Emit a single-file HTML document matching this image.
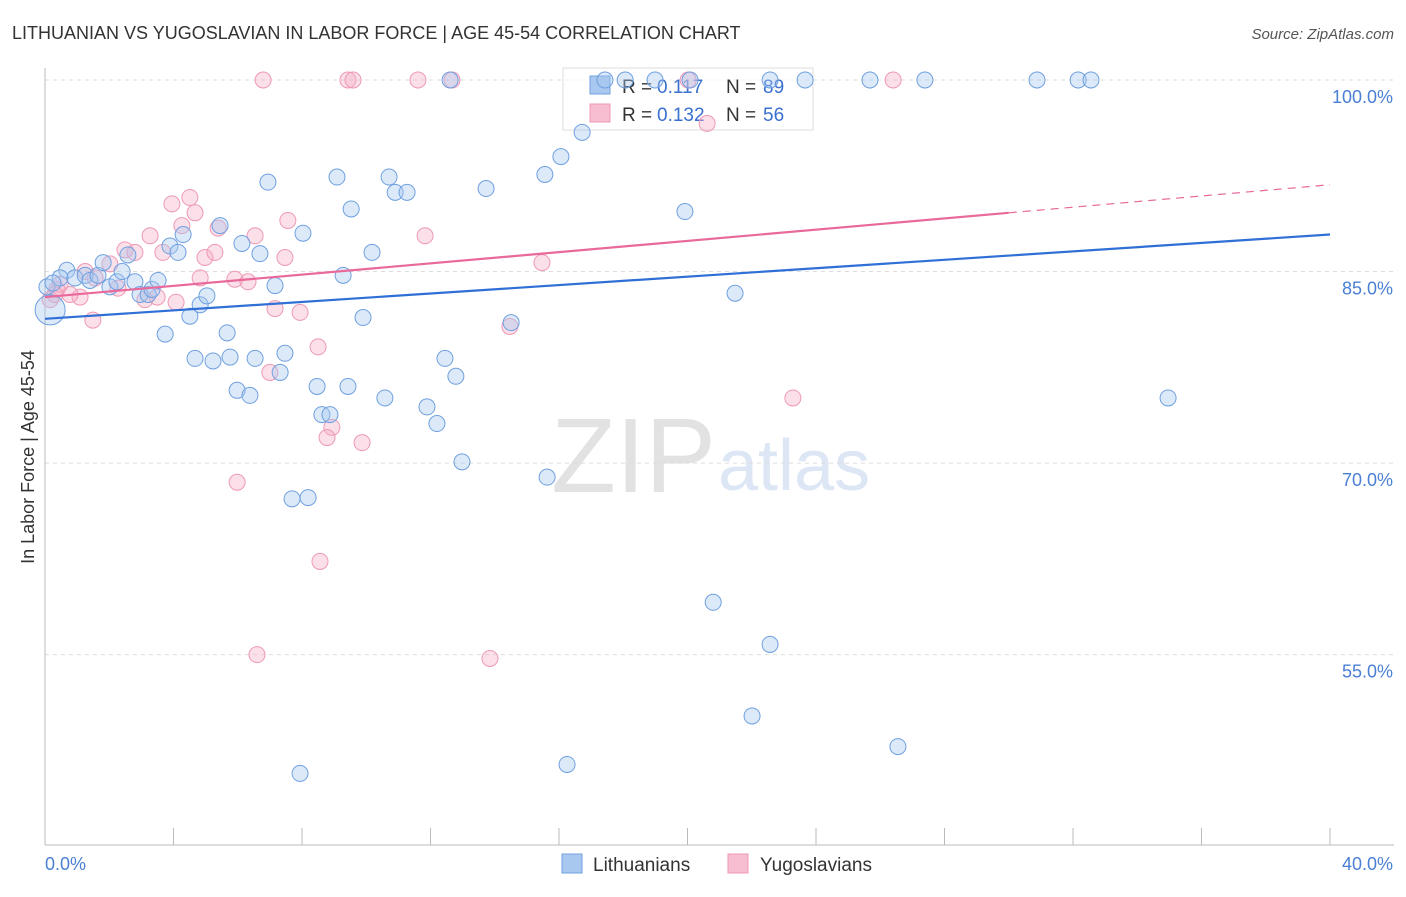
<!DOCTYPE html>
<html><head><meta charset="utf-8"><style>
body{margin:0;background:#fff;font-family:"Liberation Sans",sans-serif;}
svg text{font-family:"Liberation Sans",sans-serif;}
</style></head><body>
<svg id="chart" width="1406" height="892" viewBox="0 0 1406 892">
<text x="12" y="39" font-size="18" fill="#333">LITHUANIAN VS YUGOSLAVIAN IN LABOR FORCE | AGE 45-54 CORRELATION CHART</text>
<text x="1394" y="39" font-size="15" fill="#555" font-style="italic" text-anchor="end">Source: ZipAtlas.com</text>
<text x="716" y="492" font-size="106" fill="#e2e2e2" text-anchor="end" font-family="Liberation Serif">ZIP</text>
<text x="718" y="490" font-size="72" fill="#dce6f4">atlas</text>
<g id="grid"></g><g id="axes"></g>
<g>
<rect x="563" y="68" width="250" height="62" fill="#fff" fill-opacity="0.6" stroke="#ddd"/>
<rect x="590" y="76" width="20" height="18" fill="#a8c8f0" stroke="#6fa0e0"/>
<rect x="590" y="104" width="20" height="18" fill="#f7bdd0" stroke="#ee99b5"/>
<text x="622" y="93" font-size="19" fill="#333">R =</text>
<text x="657" y="93" font-size="19" fill="#3a70d0">0.117</text>
<text x="726" y="93" font-size="19" fill="#333">N =</text>
<text x="763" y="93" font-size="19" fill="#3a70d0">89</text>
<text x="622" y="121" font-size="19" fill="#333">R =</text>
<text x="657" y="121" font-size="19" fill="#3a70d0">0.132</text>
<text x="726" y="121" font-size="19" fill="#333">N =</text>
<text x="763" y="121" font-size="19" fill="#3a70d0">56</text>
</g>
<g id="pts"></g><g id="trends"></g>
<text transform="translate(34,457) rotate(-90)" font-size="18" fill="#333" text-anchor="middle">In Labor Force | Age 45-54</text>
<text x="45" y="870" font-size="18" fill="#4a7fd4">0.0%</text>
<text x="1393" y="870" font-size="18" fill="#4a7fd4" text-anchor="end">40.0%</text>
<g>
<rect x="562" y="854" width="20" height="19" fill="#a8c8f0" stroke="#6fa0e0"/>
<text x="593" y="871" font-size="19" fill="#333">Lithuanians</text>
<rect x="728" y="854" width="20" height="19" fill="#f7bdd0" stroke="#ee99b5"/>
<text x="760" y="871" font-size="19" fill="#333">Yugoslavians</text>
</g>
</svg>
<script>
const yTicks=[55,70,85,100];
const yTickLabels=["55.0%","70.0%","85.0%","100.0%"];
const xTicks=[0,4,8,12,16,20,24,28,32,36,40];
const blueX=[0.68,0.47,0.93,1.25,1.40,1.65,1.81,2.02,2.24,2.40,2.58,2.80,2.96,3.21,3.33,3.52,3.74,3.89,4.14,4.30,4.51,4.67,4.83,5.04,5.23,5.45,5.67,5.76,5.98,6.13,6.38,6.54,6.69,6.94,7.16,7.32,7.47,7.69,7.94,8.03,8.19,8.47,8.62,8.87,9.09,9.28,9.43,9.53,9.90,10.18,10.58,10.71,10.90,11.27,11.89,12.20,12.45,12.61,12.79,12.98,13.73,14.51,15.56,15.63,16.06,16.25,16.72,17.43,18.06,18.99,19.92,20.08,20.80,21.48,22.01,22.57,22.57,23.66,25.68,26.55,27.39,30.88,32.16,32.56,34.96,0.16,0.06,0.25];
const blueY=[85.1,84.5,84.5,84.7,84.3,84.7,85.7,83.8,84.2,85.0,86.3,84.2,83.2,83.2,83.6,84.3,80.1,87.0,86.5,87.9,81.5,78.2,82.4,83.1,78.0,88.6,80.2,78.3,75.7,87.2,75.3,78.2,86.4,92.0,83.9,77.1,78.6,67.2,45.7,88.0,67.3,76.0,73.8,73.8,92.4,84.7,76.0,89.9,81.4,86.5,75.1,92.4,91.2,91.2,74.4,73.1,78.2,100,76.8,70.1,91.5,81.0,92.6,68.9,94.0,46.4,95.9,100,100,100,89.7,100,59.1,83.3,50.2,100,55.8,100,100,47.8,100,100,100,100,75.1,82.0,83.8,84.1];
const pinkX=[6.79,9.43,9.59,11.61,12.67,20.02,26.40,20.61,4.51,3.95,4.67,4.26,5.39,3.27,6.54,7.56,11.83,2.49,2.80,3.67,4.98,5.29,7.47,2.02,4.83,5.91,6.32,2.27,1.56,1.09,0.78,0.37,0.47,3.11,3.49,4.08,7.16,7.94,1.49,14.47,15.47,8.50,7.00,23.28,8.93,8.78,9.87,5.98,8.56,6.60,13.85,0.16,0.31,1.25];
const pinkY=[100,100,100,100,100,100,100,96.6,90.8,90.3,89.6,88.6,88.4,87.8,87.8,89.0,87.8,86.7,86.5,86.5,86.1,86.5,86.1,85.6,84.5,84.4,84.2,83.7,84.5,83.0,83.2,83.6,84.0,82.8,83.0,82.6,82.1,81.8,81.2,80.7,85.7,79.1,77.1,75.1,72.8,72.0,71.6,68.5,62.3,55.0,54.7,82.8,83.2,85.0];
const blueTrend=[81.3,87.9];
const pinkTrend=[83.0,91.8];
const pinkSolidEnd=30;
const NS="http://www.w3.org/2000/svg";
const sx=v=>45+v/40*1285;
const sy=v=>80+(100-v)*12.77;
function mk(tag,attrs,parent){const e=document.createElementNS(NS,tag);for(const k in attrs)e.setAttribute(k,attrs[k]);parent.appendChild(e);return e;}
const grid=document.getElementById('grid'),axes=document.getElementById('axes'),pts=document.getElementById('pts'),tr=document.getElementById('trends');
yTicks.forEach((t,i)=>{
 const l=mk('line',{x1:45,x2:1394,y1:sy(t),y2:sy(t),stroke:'#ddd','stroke-dasharray':'4,4'},grid);
 
 
 const tx=mk('text',{x:1393,y:sy(t)+23,'font-size':18,fill:'#4a7fd4','text-anchor':'end'},grid);
 tx.textContent=yTickLabels[i];
 
 
});
const ax=mk('line',{x1:45,x2:45,y1:68,y2:845,stroke:'#bbb'},axes);


const bx=mk('line',{x1:45,x2:1394,y1:845,y2:845,stroke:'#bbb'},axes);


xTicks.forEach(t=>{
 const l=mk('line',{x1:sx(t),x2:sx(t),y1:828,y2:845,stroke:'#bbb'},axes);
 
 
});
function drawPts(X,Y,fill,stroke,name){
 X.forEach((x,i)=>{
  const big=(name==='lithuanian-point'&&i===85);
  const c=mk('circle',{cx:sx(x),cy:sy(Y[i]),r:big?15:8,fill:fill,'fill-opacity':0.4,stroke:stroke,'stroke-width':1},pts);
  
  
 });
}
drawPts(pinkX,pinkY,'#f5b0c8','#ee99b5','yugoslavian-point');
drawPts(blueX,blueY,'#a8c8f0','#6fa0e0','lithuanian-point');
const bl=mk('line',{x1:sx(0),y1:sy(blueTrend[0]),x2:sx(40),y2:sy(blueTrend[1]),stroke:'#2f6fd6','stroke-width':2.2},tr);


const pm=pinkTrend[0]+(pinkTrend[1]-pinkTrend[0])*pinkSolidEnd/40;
const pl=mk('line',{x1:sx(0),y1:sy(pinkTrend[0]),x2:sx(pinkSolidEnd),y2:sy(pm),stroke:'#e8699a','stroke-width':2.2},tr);


const pd=mk('line',{x1:sx(pinkSolidEnd),y1:sy(pm),x2:sx(40),y2:sy(pinkTrend[1]),stroke:'#e8699a','stroke-width':1.2,'stroke-dasharray':'8,6'},tr);


</script>
</body></html>
